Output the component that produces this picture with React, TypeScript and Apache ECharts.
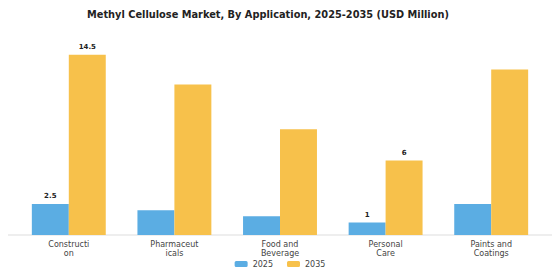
import React, { useEffect, useRef } from "react";
import * as echarts from "echarts";

const categories = ["Constructi\non", "Pharmaceut\nicals", "Food and\nBeverage", "Personal\nCare", "Paints and\nCoatings"];
const values2025 = [2.5, 2.0, 1.5, 1.0, 2.5];
const values2035 = [14.5, 12.1, 8.5, 6.0, 13.3];
const labeled2025 = [true, false, false, true, false];
const labeled2035 = [true, false, false, true, false];

export default function App() {
  const ref = useRef<HTMLDivElement>(null);
  useEffect(() => {
    const chart = echarts.init(ref.current!, null, { renderer: "svg" });
    const font = "DejaVu Sans";
    const mk = (vals: number[], flags: boolean[]) =>
      vals.map((v, i) => ({
        value: v,
        label: {
          show: flags[i],
          position: "top",
          distance: 4,
          fontSize: 7,
          fontWeight: "bold",
          color: "#222",
          fontFamily: font,
        },
      }));
    chart.setOption({
      animation: false,
      title: {
        text: "Methyl Cellulose Market, By Application, 2025-2035 (USD Million)",
        left: 82,
        top: 4,
        textStyle: { fontSize: 9.8, fontWeight: "bold", color: "#222", fontFamily: font },
      },
      legend: {
        bottom: 7,
        left: "center",
        itemWidth: 13,
        itemHeight: 6,
        itemGap: 14,
        textStyle: { fontSize: 8, color: "#444", fontFamily: font },
        data: ["2025", "2035"],
      },
      grid: { left: 16, right: 16, top: 36, bottom: 45 },
      xAxis: {
        type: "category",
        data: categories,
        axisLine: { show: false },
        axisTick: { show: false },
        axisLabel: { fontSize: 8, color: "#444", fontFamily: font, lineHeight: 9, margin: 5 },
      },
      yAxis: {
        type: "value",
        min: 0,
        max: 16,
        show: false,
        splitLine: { show: false },
      },
      graphic: [
        {
          type: "line",
          shape: { x1: 4, y1: 235, x2: 554, y2: 235 },
          style: { stroke: "#dddddd", lineWidth: 1 },
          z: 1,
        },
      ],
      series: [
        {
          name: "2025",
          type: "bar",
          data: mk(values2025, labeled2025),
          itemStyle: { color: "#5BADE3" },
          barGap: "0%",
          barCategoryGap: "30%",
        },
        {
          name: "2035",
          type: "bar",
          data: mk(values2035, labeled2035),
          itemStyle: { color: "#F7C14B" },
          barGap: "0%",
          barCategoryGap: "30%",
        },
      ],
    });
    return () => chart.dispose();
  }, []);
  return <div ref={ref} style={{ width: 560, height: 280, margin: -8 }} />;
}
